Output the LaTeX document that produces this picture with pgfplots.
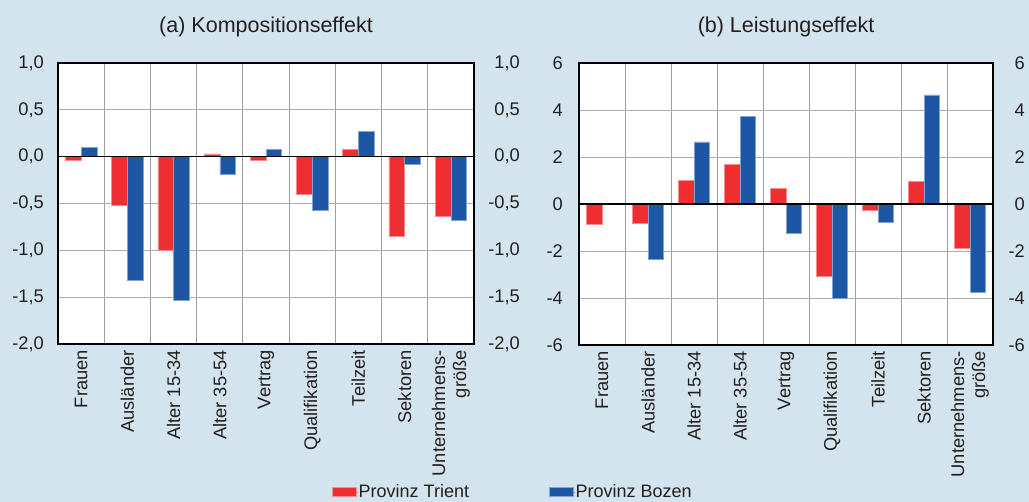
\documentclass[border=0pt]{standalone}
\usepackage{pgfplots}
\pgfplotsset{compat=1.18}
\usepackage{fontspec}
\setmainfont{Liberation Sans}
\definecolor{bg}{HTML}{D3E4EE}
\definecolor{tred}{HTML}{EE2E31}
\definecolor{bblue}{HTML}{1E56A6}
\definecolor{txt}{HTML}{231F20}
\pgfplotsset{
  base/.style={
    scale only axis, anchor=south west,
    font=\fontsize{18}{21}\selectfont,
    xmin=-0.5, xmax=8.5,
    major tick length=0pt, minor tick length=0pt,
    tick label style={text=txt, inner sep=0pt, font=\fontsize{18.3}{21}\selectfont},
  },
  main/.style={
    base,
    axis background/.style={fill=white},
    axis line style={black, line width=1.3pt},
    xtick={0,...,8},
    xticklabels={Frauen, Ausländer, Alter 15-34, Alter 35-54, Vertrag, Qualifikation, Teilzeit, Sektoren, {Unternehmens-\\größe}},
    xticklabel style={rotate=90, anchor=east, align=right},
    xticklabel shift=6pt,
    minor xtick={0.5,1.5,...,7.5},
    xminorgrids=true, ymajorgrids=true,
    major grid style={gray!65, line width=0.8pt},
    minor grid style={gray!75, line width=0.8pt},
    ybar=0pt, bar width=0.34,
    title style={at={(0.5,1)}, anchor=center, yshift=30pt, inner sep=0pt, text=txt, font=\fontsize{21.5}{25}\selectfont},
  },
  rside/.style={
    base,
    axis x line=none, axis y line*=right,
    axis line style={draw=none},
    yticklabel style={anchor=east},
  },
}
\begin{document}
\begin{tikzpicture}
\fill[bg] (0pt,0pt) rectangle (1029pt,502pt);
% ---------- panel (a)
\begin{axis}[main, at={(58pt,158pt)}, width=416pt, height=281pt,
  ymin=-2, ymax=1, ytick={-2,-1.5,...,1},
  yticklabels={{-2,0},{-1,5},{-1,0},{-0,5},{0,0},{0,5},{1,0}},
  yticklabel shift=14pt,
  title={(a) Kompositionseffekt},
  legend columns=-1,
  legend style={at={(0.6587,-0.527)}, anchor=west, draw=none, fill=none, inner sep=0pt,
    font=\fontsize{18}{21}\selectfont, text=txt,
    nodes={inner sep=0pt},
    /tikz/every even column/.append style={column sep=80pt}},
  legend image code/.code={\path (0pt,0pt) -- (26pt,0pt); \fill[#1] (0pt,-4.5pt) rectangle (24pt,4.5pt);},
]
\addplot[fill=tred, draw=tred!55!white, line width=0.5pt] coordinates {
 (0,-0.04) (1,-0.52) (2,-1.00) (3,0.03) (4,-0.04) (5,-0.40) (6,0.08) (7,-0.85) (8,-0.64)};
\addplot[fill=bblue, draw=bblue!55!white, line width=0.5pt] coordinates {
 (0,0.10) (1,-1.32) (2,-1.53) (3,-0.19) (4,0.08) (5,-0.57) (6,0.27) (7,-0.08) (8,-0.68)};
\legend{Provinz Trient, Provinz Bozen}
\draw[black, line width=1.3pt] ({rel axis cs:0,0}|-{axis cs:0,0}) -- ({rel axis cs:1,0}|-{axis cs:0,0});
\end{axis}
\begin{axis}[rside, at={(58pt,158pt)}, width=416pt, height=281pt,
  ymin=-2, ymax=1, ytick={-2,-1.5,...,1},
  yticklabels={{-2,0},{-1,5},{-1,0},{-0,5},{0,0},{0,5},{1,0}},
  yticklabel shift=46pt]
\addplot[draw=none] coordinates {(0,0)};
\end{axis}
% ---------- panel (b)
\begin{axis}[main, at={(579pt,157pt)}, width=414pt, height=282pt,
  ymin=-6, ymax=6, ytick={-6,-4,...,6},
  yticklabels={-6,-4,-2,0,2,4,6},
  yticklabel shift=16pt,
  title={(b) Leistungseffekt},
]
\addplot[fill=tred, draw=tred!55!white, line width=0.5pt] coordinates {
 (0,-0.86) (1,-0.81) (2,1.02) (3,1.70) (4,0.65) (5,-3.08) (6,-0.28) (7,0.96) (8,-1.88)};
\addplot[fill=bblue, draw=bblue!55!white, line width=0.5pt] coordinates {
 (0,0) (1,-2.36) (2,2.64) (3,3.72) (4,-1.24) (5,-4.00) (6,-0.76) (7,4.64) (8,-3.76)};
\draw[black, line width=1.3pt] ({rel axis cs:0,0}|-{axis cs:0,0}) -- ({rel axis cs:1,0}|-{axis cs:0,0});
\end{axis}
\begin{axis}[rside, at={(579pt,157pt)}, width=414pt, height=282pt,
  ymin=-6, ymax=6, ytick={-6,-4,...,6},
  yticklabels={-6,-4,-2,0,2,4,6},
  yticklabel shift=32pt]
\addplot[draw=none] coordinates {(0,0)};
\end{axis}
\end{tikzpicture}
\end{document}
